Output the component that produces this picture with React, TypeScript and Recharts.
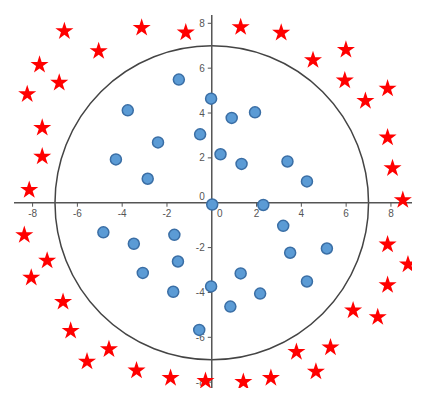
import React from 'react';
import { ScatterChart, Scatter, XAxis, YAxis, ReferenceLine, ReferenceArea } from 'recharts';

// Points inside the circle (blue)
const insidePoints: [number, number][] = [
  [-1.47, 5.49], [-0.03, 4.64], [-3.75, 4.12], [-0.52, 3.05], [-2.4, 2.69],
  [-4.28, 1.93], [-2.86, 1.07], [0.02, -0.08], [0.89, 3.78], [1.93, 4.03],
  [0.39, 2.16], [1.33, 1.73], [3.38, 1.84], [4.25, 0.95], [2.3, -0.1],
  [-4.84, -1.32], [-3.48, -1.83], [-1.67, -1.43], [-1.51, -2.62], [-3.08, -3.13],
  [-1.72, -3.97], [-0.03, -3.73], [-0.56, -5.67], [3.19, -1.03], [3.5, -2.23],
  [5.14, -2.04], [1.29, -3.15], [4.25, -3.51], [2.16, -4.05], [0.83, -4.63],
];

// Points outside the circle (red stars)
const outsidePoints: [number, number][] = [
  [-6.58, 7.69], [-3.13, 7.84], [-1.16, 7.63], [-5.05, 6.8], [-7.69, 6.19],
  [-6.81, 5.39], [-8.24, 4.88], [-7.57, 3.38], [-7.57, 2.1], [-8.15, 0.61],
  [1.29, 7.87], [3.1, 7.62], [4.52, 6.4], [5.99, 6.86], [5.94, 5.49],
  [6.86, 4.58], [7.85, 5.13], [7.85, 2.95], [8.07, 1.58], [8.53, 0.16],
  [-8.37, -1.4], [-7.35, -2.54], [-8.06, -3.3], [-6.64, -4.38], [-6.3, -5.67],
  [-4.59, -6.49], [-5.57, -7.04], [-3.36, -7.44], [-1.84, -7.77], [-0.28, -7.9],
  [7.85, -1.82], [8.76, -2.71], [7.85, -3.63], [6.31, -4.76], [7.41, -5.06],
  [5.3, -6.41], [3.78, -6.61], [4.65, -7.49], [2.64, -7.77], [1.41, -7.95],
];

const axisTicks = [-8, -6, -4, -2, 0, 2, 4, 6, 8];
const circleRadius = 7;
const xDomain: [number, number] = [-8.83, 8.94];
const yDomain: [number, number] = [-8.26, 8.37];

const insideData = insidePoints.map(([x, y]) => ({ x, y }));
const outsideData = outsidePoints.map(([x, y]) => ({ x, y }));
const xTickData = axisTicks.map((v) => ({ x: v, y: 0, v }));
const yTickData = axisTicks.map((v) => ({ x: 0, y: v, v }));

const AXIS = '#555';
const FONT = '"Liberation Sans", Arial, sans-serif';

const XTick = (p: any) => {
  const isZero = p.payload?.v === 0;
  return (
    <g>
      <line x1={p.cx} y1={p.cy} x2={p.cx} y2={p.cy + 4} stroke={AXIS} strokeWidth={1} />
      <text x={p.cx + (isZero ? 8 : 0)} y={p.cy + 14} textAnchor="middle" fontSize={10} fill={AXIS} fontFamily={FONT}>
        {p.payload?.v}
      </text>
    </g>
  );
};

const YTick = (p: any) => {
  const isZero = p.payload?.v === 0;
  return (
    <g>
      <line x1={p.cx - 4} y1={p.cy} x2={p.cx} y2={p.cy} stroke={AXIS} strokeWidth={1} />
      <text x={p.cx - 7} y={p.cy + 3.5 - (isZero ? 6 : 0)} textAnchor="end" fontSize={10} fill={AXIS} fontFamily={FONT}>
        {p.payload?.v}
      </text>
    </g>
  );
};

const Dot = (p: any) => (
  <circle cx={p.cx} cy={p.cy} r={5.5} fill="#5b9bd5" stroke="#3a6ea5" strokeWidth={1.5} />
);

const Star = (p: any) => {
  const R = 9.5;
  const r = R * 0.382;
  const pts: string[] = [];
  for (let i = 0; i < 10; i++) {
    const rad = i % 2 === 0 ? R : r;
    const a = -Math.PI / 2 + (i * Math.PI) / 5;
    pts.push(`${p.cx + rad * Math.cos(a)},${p.cy + R * 0.1 + rad * Math.sin(a)}`);
  }
  return <polygon points={pts.join(' ')} fill="#ff0000" />;
};

const CircleShape = (p: any) => (
  <ellipse
    cx={p.x + p.width / 2}
    cy={p.y + p.height / 2}
    rx={Math.abs(p.width) / 2}
    ry={Math.abs(p.height) / 2}
    fill="none"
    stroke="#444"
    strokeWidth={1.5}
  />
);

export default function App() {
  return (
    <div style={{ position: 'absolute', left: 0, top: 0, width: 425, height: 409, background: '#fff' }}>
      <ScatterChart width={425} height={409} margin={{ top: 15, right: 13, bottom: 21, left: 14 }}>
        <XAxis type="number" dataKey="x" domain={xDomain} allowDataOverflow hide />
        <YAxis type="number" dataKey="y" domain={yDomain} allowDataOverflow hide />
        <ReferenceArea
          x1={-circleRadius}
          x2={circleRadius}
          y1={-circleRadius}
          y2={circleRadius}
          shape={CircleShape}
        />
        <ReferenceLine y={0} stroke={AXIS} strokeWidth={1.5} />
        <ReferenceLine x={0} stroke={AXIS} strokeWidth={1.5} />
        <Scatter data={xTickData} shape={XTick} isAnimationActive={false} />
        <Scatter data={yTickData} shape={YTick} isAnimationActive={false} />
        <Scatter data={insideData} shape={Dot} isAnimationActive={false} />
        <Scatter data={outsideData} shape={Star} isAnimationActive={false} />
      </ScatterChart>
    </div>
  );
}
